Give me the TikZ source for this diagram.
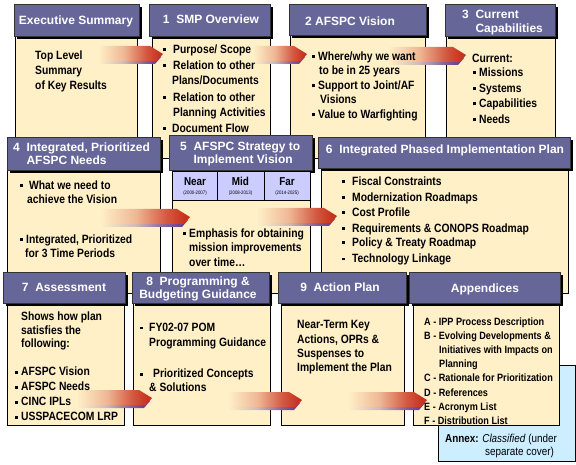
\documentclass[tikz,border=0pt]{standalone}
\usepackage{fontspec}
\setmainfont{Liberation Sans}
\newfontfamily\bodyf{Liberation Sans}[FakeStretch=0.86]
\definecolor{hdr}{HTML}{666699}
\definecolor{cream}{HTML}{FFF0C8}
\definecolor{lav}{HTML}{CCCCFF}
\definecolor{annexblue}{HTML}{CCEEFF}
\definecolor{ared}{HTML}{C8321E}
\definecolor{apurple}{HTML}{6A3D8C}
\pgfdeclarehorizontalshading{redarrow}{100bp}{color(0bp)=(cream); color(25bp)=(cream); color(45bp)=(ared!30!cream); color(62bp)=(ared!80!cream); color(72bp)=(ared); color(100bp)=(ared)}
\pgfdeclarehorizontalshading{purplearrow}{100bp}{color(0bp)=(cream); color(25bp)=(cream); color(45bp)=(apurple!30!cream); color(62bp)=(apurple!80!cream); color(72bp)=(apurple); color(100bp)=(apurple)}
\tikzset{
  bodyst/.style={draw=black, line width=0.8pt, fill=cream, anchor=north west, inner sep=0pt},
  hdrst/.style={draw=black!80, line width=0.6pt, fill=hdr, anchor=north west, inner sep=0pt,
     preaction={fill=black, transform canvas={xshift=2.6pt, yshift=-2.6pt}}},
  cellst/.style={draw=black, line width=0.6pt, fill=lav, anchor=north west, inner sep=0pt},
  annexst/.style={draw=black, line width=0.8pt, fill=annexblue, anchor=north west, inner sep=0pt},
  txt/.style={anchor=base west, inner sep=0pt, font=\bodyf\bfseries\fontsize{12}{14}\selectfont},
  aptxt/.style={anchor=base west, inner sep=0pt, font=\bodyf\bfseries\fontsize{10.6}{12}\selectfont},
  anxtxt/.style={anchor=base west, inner sep=0pt, font=\bodyf\fontsize{11.5}{13}\selectfont},
  htxt/.style={inner sep=0pt, text=white, font=\bfseries\fontsize{12}{14}\selectfont},
  celltxt/.style={anchor=base, inner sep=0pt, font=\bodyf\bfseries\fontsize{11.5}{13}\selectfont},
  datetxt/.style={anchor=base, inner sep=0pt, font=\bodyf\fontsize{5}{6}\selectfont},
  arrowred/.style={shading=redarrow},
  arrowshadow/.style={shading=purplearrow},
}
\newcommand\bx[6]{\node[#1, minimum width=#5pt-#3pt, minimum height=#6pt-#4pt] (#2) at (#3,#4) {};}
\newcounter{tln}
\newcommand\bulsq{\rule[2pt]{3pt}{3pt}}
\newcommand\tl[3]{\stepcounter{tln}\node[txt] (tl\arabic{tln}) at (#1,#2+4.5) {#3};}
\newcommand\bl[4]{\stepcounter{tln}\node[txt] (bu\arabic{tln}) at (#1,#3+4.5) {\bulsq};\tl{#2}{#3}{#4}}
\newcommand\apl[3]{\stepcounter{tln}\node[aptxt] (ap\arabic{tln}) at (#1,#2+4) {#3};}
\newcommand\hc[3]{\stepcounter{tln}\node[htxt, anchor=base] (hc\arabic{tln}) at (#1,#2+4.3) {#3};}
\newcommand\hl[3]{\stepcounter{tln}\node[htxt, anchor=base west] (hl\arabic{tln}) at (#1,#2+4.3) {#3};}
% gradient arrow: start x, tip x, top y
\newcommand\garrow[3]{%
  \shade[arrowshadow] (#1,#3+3) -- (#2-15,#3+3) -- (#2-2,#3+11) -- (#2-8,#3+18) -- (#1,#3+18) -- cycle;
  \shade[arrowred] (#1,#3) -- (#2-13,#3) -- (#2,#3+8) -- (#2-6,#3+15) -- (#1,#3+15) -- cycle;}
\begin{document}
\begin{tikzpicture}[x=1pt,y=-1pt]
\useasboundingbox (0,0) rectangle (576,465);
\fill[white] (0,0) rectangle (576,465);
% ---------- row 1 ----------
\bx{bodyst}{execB}{15}{36}{137}{158}
\bx{bodyst}{smpB}{152}{36}{270}{158}
\bx{bodyst}{visB}{290}{35}{425}{158}
\bx{bodyst}{capB}{446}{36}{555}{158}
\bx{hdrst}{execH}{14}{4}{139}{36}
\bx{hdrst}{smpH}{149}{4}{270}{36}
\bx{hdrst}{visH}{289}{4}{426}{35}
\bx{hdrst}{capH}{445}{4}{555}{36}
\garrow{98}{163}{46}
\garrow{253}{307}{46}
\garrow{388}{466}{47}
\hc{76}{20}{Executive Summary}
\hc{211}{19}{1\ \ SMP Overview}
\hc{350}{21}{2 AFSPC Vision}
\hl{462}{14}{3\ \ Current}
\hl{462}{28}{\phantom{3\ \ }Capabilities}
\tl{35}{55}{Top Level}
\tl{35}{70}{Summary}
\tl{35}{85}{of Key Results}
\bl{163}{173}{49}{Purpose/ Scope}
\bl{163}{173}{65}{Relation to other}
\tl{172}{80}{Plans/Documents}
\bl{163}{173}{97}{Relation to other}
\tl{173}{112}{Planning Activities}
\bl{163}{172}{128}{Document Flow}
\bl{312}{318}{56}{Where/why we want}
\tl{319}{70}{to be in 25 years}
\bl{312}{318}{85}{Support to Joint/AF}
\tl{320}{99}{Visions}
\bl{312}{318}{114}{Value to Warfighting}
\tl{472}{58}{Current:}
\bl{473}{479}{72}{Missions}
\bl{473}{479}{88}{Systems}
\bl{473}{479}{103}{Capabilities}
\bl{473}{479}{119}{Needs}
% ---------- row 2 ----------
\bx{bodyst}{needB}{7}{170}{160}{293}
\bx{bodyst}{stratB}{172}{170}{310}{293}
\bx{bodyst}{planB}{321}{168}{568}{293}
\bx{hdrst}{needH}{7}{137}{160}{170}
\bx{hdrst}{stratH}{169}{135}{312}{170}
\bx{hdrst}{planH}{318}{137}{570}{168}
\bx{cellst}{nearC}{172}{171}{217}{200}
\bx{cellst}{midC}{217}{171}{264}{200}
\bx{cellst}{farC}{264}{171}{310}{200}
\garrow{100}{190}{209}
\garrow{257}{337}{208}
\node[celltxt] (nearT) at (195,186) {Near};
\node[celltxt] (midT) at (240.5,186) {Mid};
\node[celltxt] (farT) at (287,186) {Far};
\node[datetxt] (nearD) at (195,195) {(2000-2007)};
\node[datetxt] (midD) at (240.5,195) {(2008-2013)};
\node[datetxt] (farD) at (287,195) {(2014-2025)};
\hl{13}{147}{4\ \ Integrated, Prioritized}
\hl{13}{160}{\phantom{4\ \ }AFSPC Needs}
\hl{180}{146}{5\ \ AFSPC Strategy to}
\hl{180}{159}{\phantom{5\ \ }Implement Vision}
\hc{445}{149}{6\ \ Integrated Phased Implementation Plan}
\bl{20}{29}{185}{What we need to}
\tl{27}{199}{achieve the Vision}
\bl{20}{26}{239}{Integrated, Prioritized}
\tl{25}{253}{for 3 Time Periods}
\bl{183}{189}{233}{Emphasis for obtaining}
\tl{189}{247}{mission improvements}
\tl{189}{262}{over time\dots}
\bl{342}{352}{181}{Fiscal Constraints}
\bl{342}{352}{197}{Modernization Roadmaps}
\bl{342}{352}{212}{Cost Profile}
\bl{342}{352}{228}{Requirements \& CONOPS Roadmap}
\bl{342}{352}{242}{Policy \& Treaty Roadmap}
\bl{342}{352}{258}{Technology Linkage}
% ---------- row 3 ----------
\bx{annexst}{annexB}{438}{365}{575}{461}
\bx{bodyst}{assB}{7}{303}{124}{425}
\bx{bodyst}{progB}{133}{303}{270}{425}
\bx{bodyst}{actB}{281}{303}{404}{425}
\bx{bodyst}{appB}{413}{303}{559}{425}
\bx{hdrst}{assH}{3}{272}{125}{303}
\bx{hdrst}{progH}{132}{272}{269}{303}
\bx{hdrst}{actH}{278}{272}{406}{303}
\bx{hdrst}{appH}{409}{272}{560}{303}
\garrow{77}{152}{390}
\garrow{228}{302}{392}
\garrow{348}{427}{392}
\hc{64}{287}{7\ \ Assessment}
\hc{198}{281}{8\ \ Programming \&}
\hc{198}{294}{Budgeting Guidance}
\hc{340}{287}{9\ \ Action Plan}
\hc{485}{288}{Appendices}
\tl{21}{316}{Shows how plan}
\tl{21}{330}{satisfies the}
\tl{21}{343}{following:}
\bl{15}{21}{371}{AFSPC Vision}
\bl{15}{21}{386}{AFSPC Needs}
\bl{15}{21}{401}{CINC IPLs}
\bl{15}{21}{416}{USSPACECOM LRP}
\bl{140}{149}{327}{FY02-07 POM}
\tl{149}{342}{Programming Guidance}
\bl{140}{153}{373}{Prioritized Concepts}
\tl{149}{387}{\& Solutions}
\tl{297}{324}{Near-Term Key}
\tl{297}{339}{Actions, OPRs \&}
\tl{297}{353}{Suspenses to}
\tl{297}{367}{Implement the Plan}
\apl{424}{321}{A - IPP Process Description}
\apl{424}{335}{B - Evolving Developments \&}
\apl{439}{349}{Initiatives with Impacts on}
\apl{439}{363}{Planning}
\apl{424}{377}{C - Rationale for Prioritization}
\apl{424}{392}{D - References}
\apl{424}{406}{E - Acronym List}
\apl{424}{420}{F - Distribution List}
\node[anxtxt] (anx1) at (445,442) {\textbf{Annex:} \textit{Classified} (under};
\node[anxtxt] (anx2) at (485,455) {separate cover)};
\end{tikzpicture}
\end{document}
